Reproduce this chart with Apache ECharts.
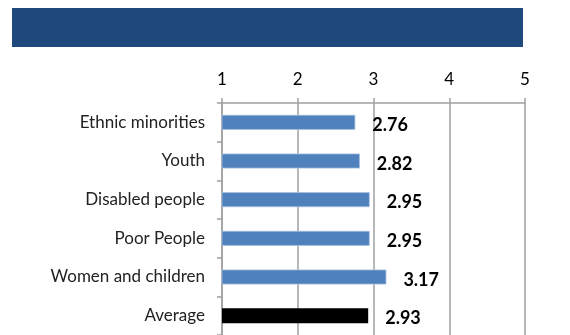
<!DOCTYPE html>
<html>
<head>
<meta charset="utf-8">
<style>
  html, body { margin: 0; padding: 0; background: #fff; }
  #chart { width: 570px; height: 335px; }
</style>
<script src="https://cdn.jsdelivr.net/npm/echarts@6/dist/echarts.min.js"></script>
</head>
<body>
<div id="chart"></div>
<script>
// Groups rated, top to bottom
const categories = ['Ethnic minorities', 'Youth', 'Disabled people', 'Poor People', 'Women and children', 'Average'];
// Mean scores on a 1-5 scale
const scores = [2.76, 2.82, 2.95, 2.95, 3.17, 2.93];
const scaleTicks = [1, 2, 3, 4, 5];

const chart = echarts.init(document.getElementById('chart'));
const font = 'Lato, "Open Sans", sans-serif';

chart.setOption({
  animation: false,
  graphic: [{
    type: 'rect',
    shape: { x: 12, y: 8, width: 511, height: 39 },
    style: { fill: '#1f497d' }
  }],
  grid: { left: 222, right: 45, top: 103, bottom: -2, containLabel: false },
  xAxis: {
    type: 'value',
    position: 'top',
    min: scaleTicks[0],
    max: scaleTicks[scaleTicks.length - 1],
    interval: 1,
    axisLine: { show: true, lineStyle: { color: '#a0a0a0', width: 1.5 } },
    axisTick: { show: true, length: 5, lineStyle: { color: '#a0a0a0', width: 1.5 } },
    splitLine: { show: true, lineStyle: { color: '#a0a0a0', width: 1.5 } },
    axisLabel: { color: '#000', fontFamily: font, fontSize: 17, margin: 15 }
  },
  yAxis: {
    type: 'category',
    inverse: true,
    data: categories,
    axisLine: { show: true, lineStyle: { color: '#a0a0a0', width: 1.5 } },
    axisTick: { show: true, length: 5, lineStyle: { color: '#a0a0a0', width: 1.5 } },
    axisLabel: { color: '#222', fontFamily: font, fontSize: 17, margin: 17 }
  },
  series: [{
    type: 'bar',
    barWidth: 15,
    data: scores.map((v, i) => ({
      value: v,
      itemStyle: i === categories.length - 1
        ? { color: '#000000' }
        : { color: '#4f81bd', borderColor: '#a8c0e0', borderWidth: 0.8 }
    })),
    label: {
      show: true,
      position: 'right',
      distance: 17,
      offset: [0, 3],
      color: '#000',
      fontFamily: font,
      fontWeight: 'bold',
      fontSize: 18,
      formatter: p => p.value.toFixed(2)
    }
  }]
});
</script>
</body>
</html>
